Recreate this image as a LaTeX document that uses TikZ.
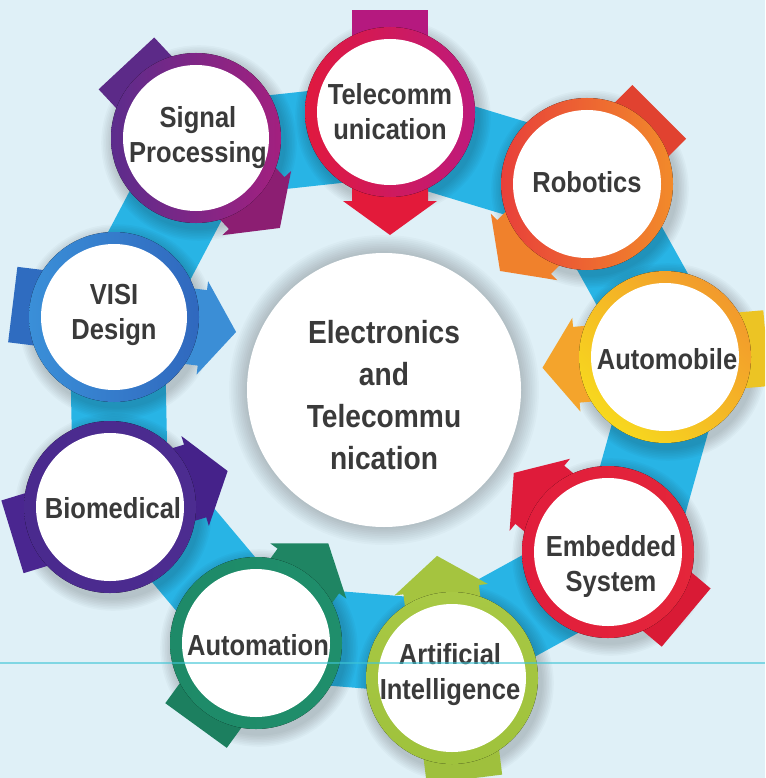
\documentclass[tikz,border=0pt]{standalone}
\usepackage{fontspec}
\newfontfamily\labfont[FakeStretch=0.88]{Liberation Sans}
\usetikzlibrary{calc}
\definecolor{bg}{HTML}{DFF0F7}
\definecolor{ribbon}{HTML}{28B4E5}
\definecolor{txt}{HTML}{3A3A3A}
\definecolor{scan}{HTML}{3FC6D6}
% ring / arrow colours
\definecolor{sigA}{HTML}{5C2C8C}\definecolor{sigB}{HTML}{A3207F}
\definecolor{sigT}{HTML}{5C2A88}\definecolor{sigH}{HTML}{8C1E72}
\definecolor{telA}{HTML}{E0193E}\definecolor{telB}{HTML}{BE1A7C}
\definecolor{telT}{HTML}{B5197F}\definecolor{telH}{HTML}{E31A3A}
\definecolor{robA}{HTML}{E8403A}\definecolor{robB}{HTML}{F28A2A}
\definecolor{robT}{HTML}{E14230}\definecolor{robH}{HTML}{F0812C}
\definecolor{autA}{HTML}{F7D81E}\definecolor{autB}{HTML}{F29A2C}
\definecolor{autT}{HTML}{ECC424}\definecolor{autH}{HTML}{F4A42C}
\definecolor{embA}{HTML}{E11D3C}\definecolor{embB}{HTML}{E4263A}
\definecolor{embT}{HTML}{D91A35}\definecolor{embH}{HTML}{DF1B3A}
\definecolor{aiA}{HTML}{9FC23C}\definecolor{aiB}{HTML}{A8C844}
\definecolor{aiT}{HTML}{9FC03D}\definecolor{aiH}{HTML}{A5C43F}
\definecolor{atmA}{HTML}{1E8A68}\definecolor{atmB}{HTML}{1F8E6B}
\definecolor{atmT}{HTML}{1C7F5F}\definecolor{atmH}{HTML}{1F8563}
\definecolor{bioA}{HTML}{4A2A8E}\definecolor{bioB}{HTML}{4C2C90}
\definecolor{bioT}{HTML}{4A2690}\definecolor{bioH}{HTML}{45228A}
\definecolor{visA}{HTML}{3A8FD8}\definecolor{visB}{HTML}{3068BE}
\definecolor{visT}{HTML}{2F6CC0}\definecolor{visH}{HTML}{3B8ED6}

% soft drop shadow behind a disc: #1 centre, #2 radius
\newcommand\discshadow[2]{%
  \foreach \k in {1,...,8}{\fill[black,opacity=0.022] ($(#1)+(3,5)$) circle ({#2+\k*1.6});}}
% arrow passing behind a disc: #1 centre, #2 direction, #3 tail colour, #4 head colour
\newcommand\ringarrow[4]{%
  \fill[#3] ($(#1)+(#2:-102)+(#2+90:38)$) -- ($(#1)+(#2:-102)+(#2+90:-38)$)
     -- ($(#1)+(#2+90:-38)$) -- ($(#1)+(#2+90:38)$) -- cycle;
  \fill[#4] ($(#1)+(#2+90:38)$) -- ($(#1)+(#2:89)+(#2+90:38)$)
     -- ($(#1)+(#2:89)+(#2+90:47)$) -- ($(#1)+(#2:123)$)
     -- ($(#1)+(#2:89)+(#2+90:-47)$) -- ($(#1)+(#2:89)+(#2+90:-38)$)
     -- ($(#1)+(#2+90:-38)$) -- cycle;}
% coloured ring with white face: #1 centre, #2 radius, #3 shading options
\newcommand\colring[3]{%
  \fill[#3] (#1) circle (#2);
  \fill[white] (#1) circle ({#2-12});}

\begin{document}
\begin{tikzpicture}[x=1pt,y={(0,-1pt)},
  lab/.style={font=\labfont\bfseries\fontsize{29}{35}\selectfont,text=txt,align=center,inner sep=0pt},
  clab/.style={font=\labfont\bfseries\fontsize{32}{42}\selectfont,text=txt,align=center,inner sep=0pt},
  band/.style={draw=ribbon,line width=95pt,line join=round}]
\useasboundingbox (0,0) rectangle (765,778);
\fill[bg] (0,0) rectangle (765,778);
\begin{scope}
\clip (0,0) rectangle (765,778);

% circle centres
\coordinate (sig) at (196,138);
\coordinate (tel) at (390,112);
\coordinate (rob) at (587,184);
\coordinate (aut) at (665,357);
\coordinate (emb) at (608,552);
\coordinate (ai)  at (452,678);
\coordinate (atm) at (256,643);
\coordinate (bio) at (110,507);
\coordinate (vis) at (114,317);
\coordinate (cen) at (384,390);

% ribbon way points
\coordinate (w1) at (205,150);
\coordinate (w2) at (389,130);
\coordinate (w3) at (587,190);
\coordinate (w4) at (680,357);
\coordinate (w5) at (625,553);
\coordinate (w6) at (452,648);
\coordinate (w7) at (256,632);
\coordinate (w8) at (120,470);
\coordinate (w9) at (117,317);
\draw[band] (w1) -- (w2) -- (w3) -- (w4) -- (w5) -- (w6) -- (w7) -- (w8) -- (w9) -- cycle;

% centre disc
\foreach \k in {1,...,10}{\fill[black,opacity=0.02] (cen) circle ({137+\k*1.8});}
\fill[white] (cen) circle (137);

% Signal Processing
\discshadow{sig}{85}
\ringarrow{sig}{47}{sigT}{sigH}
\colring{sig}{85}{left color=sigA,right color=sigB}
% Telecommunication
\discshadow{tel}{85}
\ringarrow{tel}{90}{telT}{telH}
\colring{tel}{85}{left color=telA,right color=telB}
% Robotics
\discshadow{rob}{86}
\ringarrow{rob}{135}{robT}{robH}
\colring{rob}{86}{left color=robA,right color=robB}
% Automobile
\discshadow{aut}{86}
\ringarrow{aut}{175}{autT}{autH}
\colring{aut}{86}{bottom color=autA,top color=autB,shading angle=-45}
% Embedded System
\discshadow{emb}{86}
\ringarrow{emb}{220}{embT}{embH}
\colring{emb}{86}{left color=embA,right color=embB}
% Artificial Intelligence
\discshadow{ai}{86}
\ringarrow{ai}{263}{aiT}{aiH}
\colring{ai}{86}{bottom color=aiA,top color=aiB}
% Automation
\discshadow{atm}{86}
\ringarrow{atm}{306}{atmT}{atmH}
\colring{atm}{86}{left color=atmA,right color=atmB}
% Biomedical
\discshadow{bio}{86}
\ringarrow{bio}{343}{bioT}{bioH}
\colring{bio}{86}{left color=bioA,right color=bioB}
% VISI Design
\discshadow{vis}{85}
\ringarrow{vis}{7}{visT}{visH}
\colring{vis}{85}{left color=visA,right color=visB}

% labels
\node[clab] (tcen) at (384,395) {Electronics\\and\\Telecommu\\nication};
\node[lab] (tsig) at (198,138) {Signal\\Processing};
\node[lab] (ttel) at (390,112) {Telecomm\\unication};
\node[lab] (trob) at (587,182) {Robotics};
\node[lab] (taut) at (667,359) {Automobile};
\node[lab] (temb) at (611,566) {Embedded\\System};
\node[lab] (tai)  at (450,675) {Artificial\\Intelligence};
\node[lab] (tatm) at (258,645) {Automation};
\node[lab] (tbio) at (113,508) {Biomedical};
\node[lab] (tvis) at (114,315) {VISI\\Design};

% thin scan line across the sheet
\coordinate (lnL) at (0,663);
\coordinate (lnR) at (765,663);
\draw[scan,line width=1.2pt,opacity=0.6] (lnL) -- (lnR);
\end{scope}
\end{tikzpicture}
\end{document}
